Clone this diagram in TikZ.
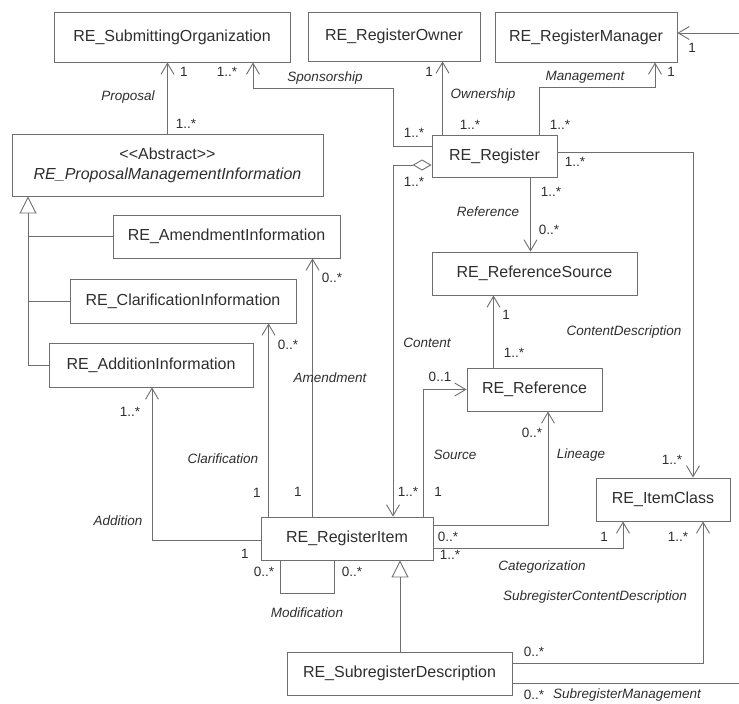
\documentclass[tikz,border=0pt]{standalone}
\usepackage{fontspec}
\setmainfont{Liberation Sans}
\usepackage{tikz}
\usetikzlibrary{arrows.meta}
\usepackage{xcolor}
\definecolor{umlline}{HTML}{6E6E6E}
\definecolor{umltext}{HTML}{2E2E2E}

\begin{document}
\begin{tikzpicture}[x=1pt,y=-1pt,
  cls/.style={draw=umlline, line width=0.9pt, rectangle, inner sep=0pt, text=umltext,
    font=\fontsize{16pt}{20pt}\selectfont, align=center},
  lbl/.style={text=umltext, font=\fontsize{13.5pt}{16pt}\selectfont\itshape, inner sep=0pt},
  mult/.style={text=umltext, font=\fontsize{13.5pt}{16pt}\selectfont, inner sep=0pt},
  assoc/.style={draw=umlline, line width=0.9pt},
  nav/.style={assoc, -{Straight Barb[length=11pt,width=13pt]}},
  agg/.style={assoc, {Diamond[open,length=19pt,width=11pt]}-{Straight Barb[length=11pt,width=13pt]}},
  gen/.style={assoc, -{Triangle[open,length=17pt,width=17pt]}}]
\useasboundingbox (0,0) rectangle (739,704);
\coordinate (rim) at (739,0);

\node [cls, minimum width=236pt, minimum height=50pt] (subm) at (172,37) {RE\_SubmittingOrganization};
\node [cls, minimum width=172pt, minimum height=49pt] (owner) at (394,36.5) {RE\_RegisterOwner};
\node [cls, minimum width=182pt, minimum height=50pt] (mgr) at (586,37) {RE\_RegisterManager};
\node [cls, minimum width=311pt, minimum height=62pt] (abstr) at (167.5,165) {<{}<Abstract>{}>\\\textit{RE\_ProposalManagementInformation}};
\node [cls, minimum width=125pt, minimum height=42pt] (reg) at (494.5,156) {RE\_Register};
\node [cls, minimum width=205pt, minimum height=43pt] (refsrc) at (534.5,273.5) {RE\_ReferenceSource};
\node [cls, minimum width=135pt, minimum height=43pt] (ref) at (534.5,389.5) {RE\_Reference};
\node [cls, minimum width=227pt, minimum height=43pt] (amend) at (226.5,236.5) {RE\_AmendmentInformation};
\node [cls, minimum width=226pt, minimum height=44pt] (clar) at (183,301) {RE\_ClarificationInformation};
\node [cls, minimum width=204pt, minimum height=44pt] (addn) at (151,365) {RE\_AdditionInformation};
\node [cls, minimum width=172pt, minimum height=43pt] (item) at (347,538.5) {RE\_RegisterItem};
\node [cls, minimum width=134pt, minimum height=43pt] (itemcls) at (663,499.5) {RE\_ItemClass};
\node [cls, minimum width=225pt, minimum height=43pt] (subreg) at (399.5,673.5) {RE\_SubregisterDescription};

\draw [nav] (abstr.north) -- (abstr.north |- subm.south);
\draw [nav] ([yshift=10pt]reg.west) -| (393,88) -| ([xshift=81pt]subm.south);
\draw [nav] ([xshift=11pt]reg.north west) -- ([xshift=11pt]reg.north west |- owner.south);
\draw [nav] ([xshift=-18pt]reg.north east) -- ++(0,-47) -| ([xshift=69pt]mgr.south);
\draw [nav] ([yshift=4pt]mgr.east -| rim) -- ([yshift=4pt]mgr.east);
\draw [agg] ([yshift=-9pt]reg.west) -| ([xshift=46pt]item.north);
\draw [nav] ([xshift=36pt]reg.south) -- ([xshift=36pt]reg.south |- refsrc.north);
\draw [nav] ([xshift=-41pt]ref.north) -- ([xshift=-41pt]ref.north |- refsrc.south);
\draw [nav] ([yshift=4pt]reg.east) -| ([xshift=30pt]itemcls.north);
\draw [nav] ([xshift=-10pt]item.north east) |- (ref.west);
\draw [nav] ([yshift=13.5pt]item.east) -| ([xshift=13.5pt]ref.south);
\draw [nav] ([yshift=-9.5pt]item.east) -| ([xshift=-40pt]itemcls.south);
\draw [nav] ([xshift=52pt]item.north west) -- ([xshift=52pt]item.north west |- amend.south);
\draw [nav] ([xshift=8pt]item.north west) -- ([xshift=8pt]item.north west |- clar.south);
\draw [nav] ([yshift=-1.5pt]item.west) -| ([xshift=1pt]addn.south);
\draw [gen] (addn.west) -| ([xshift=-139.5pt]abstr.south);
\draw [assoc] (amend.west) -- ++(-85,0);
\draw [assoc] (clar.west) -- ++(-42,0);
\draw [assoc] ([xshift=20pt]item.south west) -- ++(0,33) -| ([xshift=74pt]item.south west);
\draw [gen] ([xshift=0.5pt]subreg.north) -- ([xshift=0.5pt]subreg.north |- item.south);
\draw [nav] ([yshift=10.5pt]subreg.east) -| ([xshift=40pt]itemcls.south);
\draw [assoc] ([yshift=-9.5pt]subreg.east) -- ([yshift=-9.5pt]subreg.east -| rim);

\node [lbl] (lprop) at (128,97) {Proposal};
\node [mult] (mprop1) at (184,72) {1};
\node [mult] (mprop2) at (186,124) {1..*};
\node [mult] (mspon1) at (227,72) {1..*};
\node [lbl] (lspon) at (325,78) {Sponsorship};
\node [mult] (mspon2) at (414,133) {1..*};
\node [mult] (mown1) at (429,72) {1};
\node [lbl] (lown) at (483,95) {Ownership};
\node [mult] (mown2) at (470,125) {1..*};
\node [lbl] (lman) at (585,77) {Management};
\node [mult] (mman1) at (671,72) {1};
\node [mult] (mman2) at (560,125) {1..*};
\node [mult] (mman3) at (692,48) {1};
\node [mult] (mcont1) at (414,182) {1..*};
\node [lbl] (lcont) at (427,343) {Content};
\node [mult] (mcont2) at (408,492) {1..*};
\node [mult] (mcd1) at (575,162) {1..*};
\node [lbl] (lcd) at (624,332) {ContentDescription};
\node [mult] (mcd2) at (672,460) {1..*};
\node [mult] (mrefc1) at (551,192) {1..*};
\node [lbl] (lrefc) at (488,212) {Reference};
\node [mult] (mrefc2) at (549,230) {0..*};
\node [mult] (mrs1) at (506,315) {1};
\node [mult] (mrs2) at (514,353) {1..*};
\node [mult] (msrc1) at (440,377) {0..1};
\node [lbl] (lsrc) at (455,455) {Source};
\node [mult] (msrc2) at (438,492) {1};
\node [mult] (mlin1) at (532,433) {0..*};
\node [lbl] (llin) at (581,455) {Lineage};
\node [mult] (mlin2) at (448,537) {0..*};
\node [mult] (mcat1) at (604,537) {1};
\node [mult] (mcat2) at (450,555) {1..*};
\node [lbl] (lcat) at (542,567) {Categorization};
\node [mult] (mscd1) at (678,537) {1..*};
\node [lbl] (lscd) at (595,597) {SubregisterContentDescription};
\node [mult] (mscd2) at (534,652) {0..*};
\node [mult] (msm) at (534,695) {0..*};
\node [lbl] (lsm) at (627,695) {SubregisterManagement};
\node [mult] (mam1) at (332,278) {0..*};
\node [lbl] (lam) at (330,378) {Amendment};
\node [mult] (mam2) at (298,492) {1};
\node [mult] (mcl1) at (288,345) {0..*};
\node [lbl] (lcl) at (223,459) {Clarification};
\node [mult] (mcl2) at (257,493) {1};
\node [mult] (mad1) at (130,412) {1..*};
\node [lbl] (lad) at (118,521) {Addition};
\node [mult] (mad2) at (245,554) {1};
\node [mult] (mmod1) at (264,572) {0..*};
\node [mult] (mmod2) at (352,572) {0..*};
\node [lbl] (lmod) at (307,613) {Modification};
\end{tikzpicture}
\end{document}
